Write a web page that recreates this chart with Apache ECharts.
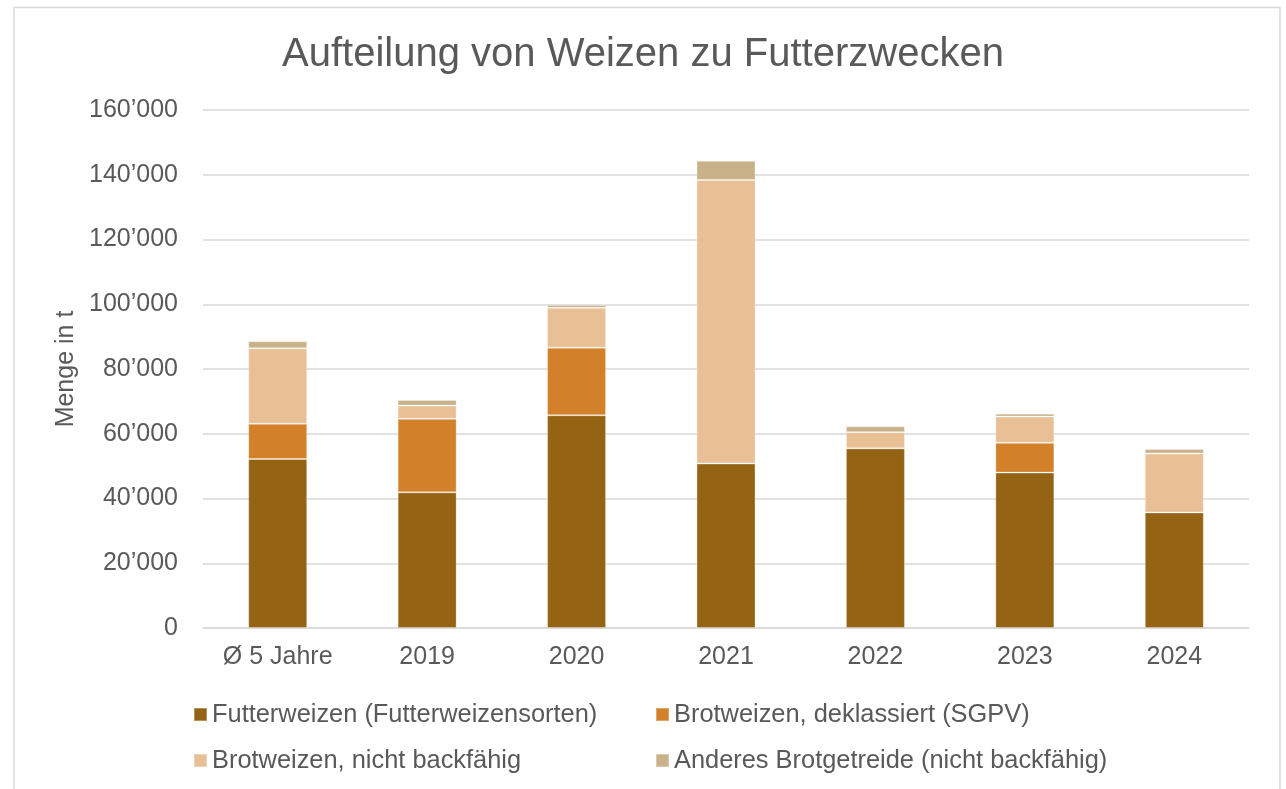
<!DOCTYPE html>
<html>
<head>
<meta charset="utf-8">
<script src="https://cdn.jsdelivr.net/npm/echarts@6/dist/echarts.min.js"></script>
<style>
  html, body { margin: 0; padding: 0; background: #fff; }
  #chart { width: 1286px; height: 789px; }
</style>
</head>
<body>
<div id="chart"></div>
<script>
var categories = ['Ø 5 Jahre', '2019', '2020', '2021', '2022', '2023', '2024'];
var futterweizen = [52200, 41900, 65700, 50800, 55500, 48000, 35700];
var deklassiert = [10900, 22700, 20900, 0, 0, 9200, 0];
var nichtBackfaehig = [23300, 4100, 12300, 87600, 5000, 8100, 18200];
var anderesGetreide = [2200, 1700, 900, 5900, 1800, 900, 1400];

var seriesNames = [
    'Futterweizen (Futterweizensorten)',
    'Brotweizen, deklassiert (SGPV)',
    'Brotweizen, nicht backfähig',
    'Anderes Brotgetreide (nicht backfähig)'
];
var seriesColors = ['#946414', '#D2802A', '#E9C096', '#C9B189'];
var seriesData = [futterweizen, deklassiert, nichtBackfaehig, anderesGetreide];

// legend slots: left, top
var legendPos = [[193, 702], [655, 702], [193, 748], [655, 748]];

var textColor = '#595959';
var font = 'Liberation Sans, Arial, sans-serif';

function fmt(v) {
    return String(v).replace(/\B(?=(\d{3})+(?!\d))/g, '\u2019');
}

var chart = echarts.init(document.getElementById('chart'));

var series = [];
var legends = [];
for (var i = 0; i < seriesNames.length; i++) {
    series.push({
        name: seriesNames[i],
        type: 'bar',
        stack: 'total',
        barWidth: 59,
        data: seriesData[i],
        itemStyle: {
            color: seriesColors[i],
            borderColor: 'rgba(255,255,255,0.3)',
            borderWidth: 1
        }
    });
    legends.push({
        left: legendPos[i][0],
        top: legendPos[i][1],
        padding: 0,
        itemWidth: 13,
        itemHeight: 13,
        icon: 'rect',
        data: [seriesNames[i]],
        textStyle: { color: textColor, fontFamily: font, fontSize: 25.4 }
    });
}

chart.setOption({
    backgroundColor: '#fff',
    animation: false,
    title: {
        text: 'Aufteilung von Weizen zu Futterzwecken',
        left: 'center',
        top: 30,
        textStyle: {
            color: textColor,
            fontFamily: font,
            fontWeight: 'normal',
            fontSize: 40
        }
    },
    legend: legends,
    graphic: [{
        type: 'rect',
        shape: { x: 14, y: 7.5, width: 1266, height: 800 },
        style: { fill: 'none', stroke: '#D9D9D9', lineWidth: 1.5 },
        silent: true
    }],
    grid: {
        left: 203,
        right: 37,
        top: 110,
        bottom: 161,
        containLabel: false
    },
    xAxis: {
        type: 'category',
        data: categories,
        axisLine: { lineStyle: { color: '#D9D9D9', width: 1.5 } },
        axisTick: { show: false },
        axisLabel: {
            color: textColor,
            fontFamily: font,
            fontSize: 25,
            margin: 17
        }
    },
    yAxis: {
        type: 'value',
        min: 0,
        max: 160000,
        interval: 20000,
        name: 'Menge in t',
        nameLocation: 'middle',
        nameGap: 122,
        nameTextStyle: {
            color: textColor,
            fontFamily: font,
            fontSize: 25
        },
        axisLine: { show: false },
        axisTick: { show: false },
        splitLine: { lineStyle: { color: '#D9D9D9', width: 1.5 } },
        axisLabel: {
            color: textColor,
            fontFamily: font,
            fontSize: 25,
            margin: 25,
            formatter: fmt
        }
    },
    series: series
});
</script>
</body>
</html>
